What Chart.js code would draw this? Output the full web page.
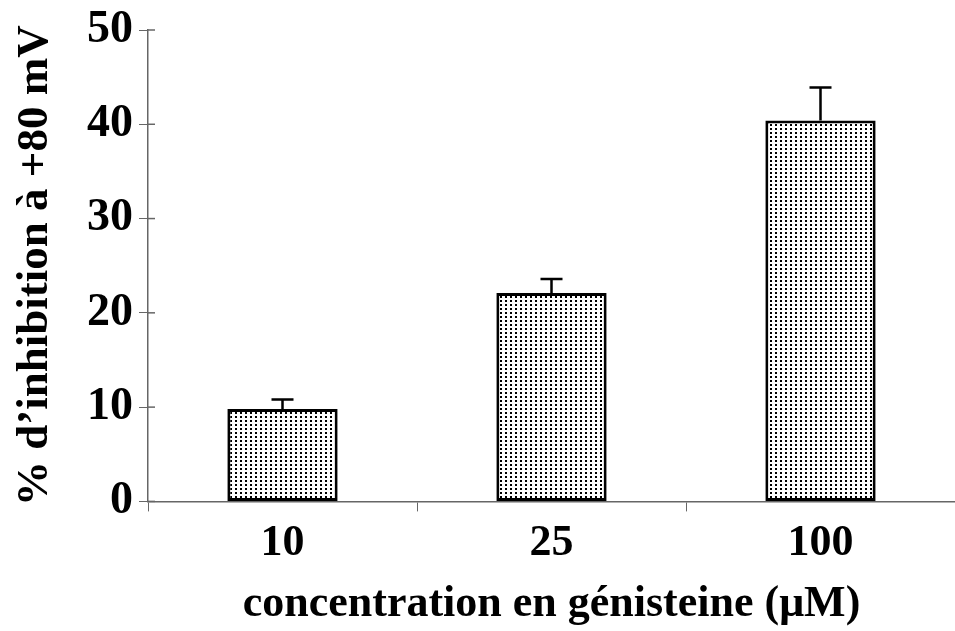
<!DOCTYPE html>
<html>
<head>
<meta charset="utf-8">
<script src="https://cdn.jsdelivr.net/npm/chart.js@4"></script>
<style>
  body { margin: 0; background: #fff; }
  #wrap { width: 955px; height: 631px; }
</style>
</head>
<body>
<div id="wrap"><canvas id="myChart" width="955" height="631"></canvas></div>
<script>
// data
var concentrations = ["10", "25", "100"];
var inhibition = [9.8, 22.1, 40.4];
var errUp = [1.0, 1.5, 3.5];
var yTicks = [0, 10, 20, 30, 40, 50];

// dotted fill like the original print
function dotPattern() {
  var c = document.createElement("canvas");
  c.width = 5;
  c.height = 4;
  var g = c.getContext("2d");
  g.fillStyle = "#ffffff";
  g.fillRect(0, 0, 5, 4);
  g.fillStyle = "#000000";
  g.fillRect(0, 0, 2, 2);
  return g.createPattern(c, "repeat");
}

// upward error bars with a cap, plus the small inner y tick stubs
var errorBars = {
  id: "errorBars",
  afterDatasetsDraw: function (chart) {
    var ctx = chart.ctx;
    var meta = chart.getDatasetMeta(0);
    var y = chart.scales.y;
    ctx.save();
    ctx.strokeStyle = "#000";
    ctx.lineWidth = 2.5;
    meta.data.forEach(function (bar, i) {
      var top = y.getPixelForValue(inhibition[i] + errUp[i]);
      ctx.beginPath();
      ctx.moveTo(bar.x, bar.y);
      ctx.lineTo(bar.x, top);
      ctx.moveTo(bar.x - 11, top);
      ctx.lineTo(bar.x + 11, top);
      ctx.stroke();
    });
    ctx.strokeStyle = "#666";
    ctx.lineWidth = 1.5;
    yTicks.forEach(function (v) {
      var py = y.getPixelForValue(v);
      ctx.beginPath();
      ctx.moveTo(y.right, py);
      ctx.lineTo(y.right + 7, py);
      ctx.stroke();
    });
    ctx.restore();
  }
};

var serif = "'Liberation Serif', 'Times New Roman', serif";

var ctx = document.getElementById("myChart").getContext("2d");
var myChart = new Chart(ctx, {
  type: "bar",
  data: {
    labels: concentrations,
    datasets: [
      {
        data: inhibition,
        backgroundColor: dotPattern(),
        borderColor: "#000000",
        borderWidth: 3,
        borderSkipped: false,
        barPercentage: 0.41,
        categoryPercentage: 1.0,
      },
    ],
  },
  options: {
    responsive: false,
    animation: false,
    layout: { padding: { top: 30, right: 0, left: 0, bottom: 0 } },
    plugins: { legend: { display: false }, tooltip: { enabled: false } },
    scales: {
      x: {
        grid: {
          offset: true,
          drawOnChartArea: false,
          drawTicks: true,
          tickLength: 10,
          color: "#666",
        },
        border: { color: "#666", width: 1.5 },
        ticks: {
          color: "#000",
          padding: 6,
          font: { family: serif, size: 44, weight: "bold" },
        },
        title: {
          display: true,
          text: "concentration en génisteine (μM)",
          color: "#000",
          padding: { top: 2, bottom: 0 },
          font: { family: serif, size: 44, weight: "bold" },
        },
      },
      y: {
        min: 0,
        max: 50,
        afterBuildTicks: function (axis) {
          axis.ticks = yTicks.map(function (v) { return { value: v }; });
        },
        grid: {
          drawOnChartArea: false,
          tickLength: 9,
          color: "#666",
        },
        border: { color: "#666", width: 1.5 },
        ticks: {
          color: "#000",
          padding: 6,
          font: { family: serif, size: 46, weight: "bold", lineHeight: 1 },
        },
        title: {
          display: true,
          text: "% d’inhibition à +80 mV",
          color: "#000",
          padding: { top: 8, bottom: 19 },
          font: { family: serif, size: 45, weight: "bold" },
        },
      },
    },
  },
  plugins: [errorBars],
});
</script>
</body>
</html>
